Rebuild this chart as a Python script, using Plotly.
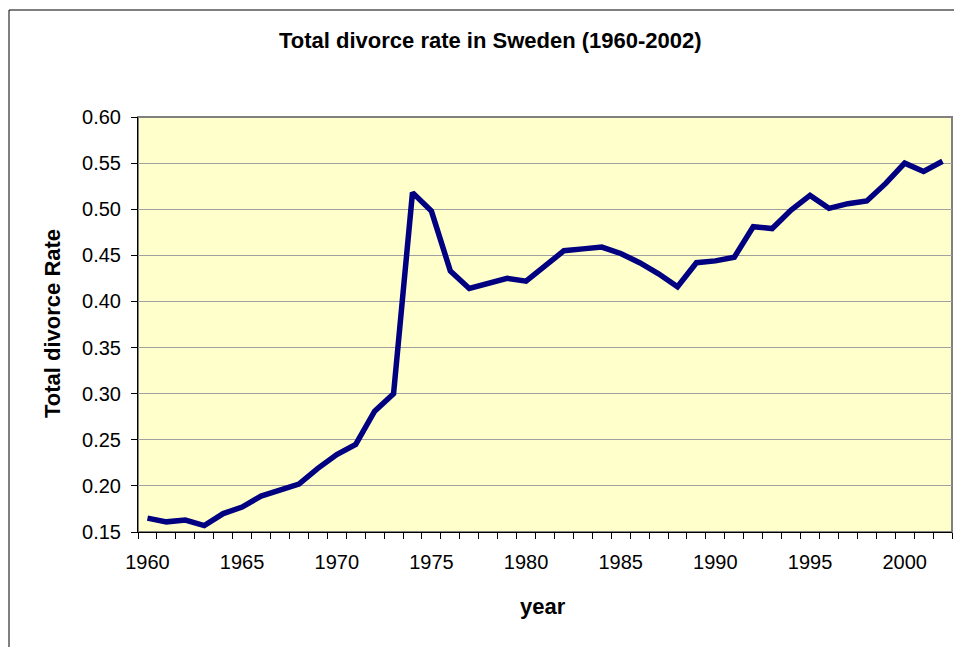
import plotly.graph_objects as go

years = list(range(1960, 2003))
rate = [0.165, 0.161, 0.163, 0.157, 0.170, 0.177, 0.189, 0.196, 0.202, 0.219,
        0.234, 0.245, 0.281, 0.300, 0.518, 0.498, 0.433, 0.414, 0.419, 0.425,
        0.422, 0.438, 0.455, 0.457, 0.459, 0.452, 0.442, 0.430, 0.416, 0.442,
        0.444, 0.448, 0.481, 0.479, 0.499, 0.515, 0.501, 0.506, 0.509, 0.528,
        0.550, 0.541, 0.552]
xtick_labels = [1960, 1965, 1970, 1975, 1980, 1985, 1990, 1995, 2000]
ytick_vals = [0.15, 0.20, 0.25, 0.30, 0.35, 0.40, 0.45, 0.50, 0.55, 0.60]

title_text = "Total divorce rate in Sweden (1960-2002)"
x_title = "year"
y_title = "Total divorce Rate"

FONT = "Liberation Sans, Arial, sans-serif"

# page offset of the figure (body margin)
OFF = 8
W, H = 954, 639
L, R, T, B = 138 - OFF, 10, 117 - OFF, (OFF + H) - 532
pw = W - L - R
ph = H - T - B

def px_x(px):
    return (px - OFF - L) / pw

def px_y(py):
    return (H - B - (py - OFF)) / ph

fig = go.Figure()
fig.add_trace(go.Scatter(
    x=years, y=rate, mode="lines",
    line=dict(color="#000080", width=5.5),
    showlegend=False, hoverinfo="x+y",
))

minor_vals = [y - 0.5 for y in years] + [years[-1] + 0.5]

fig.update_layout(
    width=W, height=H,
    margin=dict(l=L, r=R, t=T, b=B, pad=0),
    paper_bgcolor="white",
    plot_bgcolor="#FFFFCC",
    font=dict(family=FONT, size=20, color="black"),
    xaxis=dict(
        range=[years[0] - 0.5, years[-1] + 0.5],
        tickmode="array", tickvals=xtick_labels,
        ticktext=[str(v) for v in xtick_labels],
        ticks="", showgrid=False, zeroline=False,
        showline=True, linecolor="black", linewidth=1,
        tickfont=dict(size=20),
        ticklabelstandoff=12,
        minor=dict(tickmode="array", tickvals=minor_vals, ticks="outside",
                   ticklen=6, tickcolor="black", tickwidth=1, showgrid=False),
    ),
    yaxis=dict(
        range=[ytick_vals[0], ytick_vals[-1]],
        tickmode="array", tickvals=ytick_vals,
        ticktext=[f"{v:.2f}" for v in ytick_vals],
        ticks="outside", ticklen=6, tickcolor="black",
        showgrid=True, gridcolor="#A0A0A0", gridwidth=1,
        zeroline=False, showline=True, linecolor="black", linewidth=1,
        tickfont=dict(size=20),
        ticklabelstandoff=6,
    ),
    shapes=[
        dict(type="rect", xref="paper", yref="paper", x0=0, x1=1, y0=0, y1=1,
             line=dict(color="#808080", width=2), layer="below"),
        dict(type="rect", xref="paper", yref="paper",
             x0=px_x(9), x1=px_x(1000), y0=px_y(700), y1=px_y(10),
             line=dict(color="black", width=1), layer="above"),
    ],
    annotations=[
        dict(text=f"<b>{title_text}</b>", xref="paper", yref="paper",
             x=px_x(490), y=px_y(41), xanchor="center", yanchor="middle",
             showarrow=False, font=dict(size=22, family=FONT)),
        dict(text=f"<b>{x_title}</b>", xref="paper", yref="paper",
             x=px_x(543), y=px_y(606), xanchor="center", yanchor="middle",
             showarrow=False, font=dict(size=22, family=FONT)),
        dict(text=f"<b>{y_title}</b>", xref="paper", yref="paper",
             x=px_x(52), y=px_y(324), xanchor="center", yanchor="middle",
             textangle=-90, showarrow=False, font=dict(size=22, family=FONT)),
    ],
)

fig.write_html("out.html")
